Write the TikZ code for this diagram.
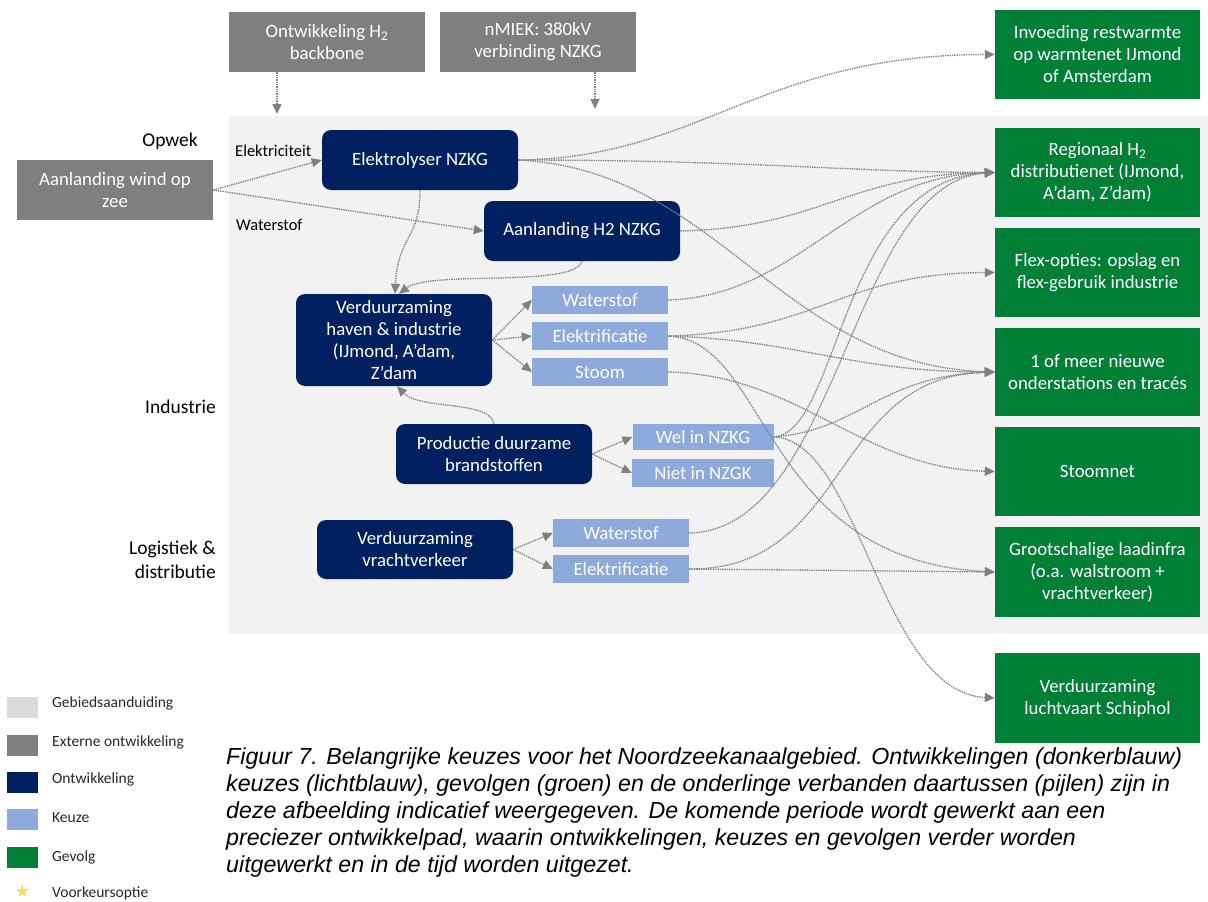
\documentclass[tikz,border=0pt]{standalone}
\usepackage{fontspec}
\setmainfont{Carlito}
\newfontfamily\capfont{Liberation Sans}
\newfontfamily\symfont{DejaVu Sans}
\usetikzlibrary{arrows.meta}
\definecolor{navy}{HTML}{002060}
\definecolor{extgray}{HTML}{7F7F7F}
\definecolor{keuze}{HTML}{8EA9DB}
\definecolor{gevolg}{HTML}{007F37}
\definecolor{areagray}{HTML}{F2F2F2}
\definecolor{leggray}{HTML}{D9D9D9}
\definecolor{conngray}{HTML}{808080}
\definecolor{staryellow}{HTML}{FFD966}
\newcommand\bxfont{\fontsize{18.8}{22}\selectfont}
\tikzset{
  ext/.style={fill=extgray, text=white, minimum width=196pt, minimum height=60pt, inner sep=0pt, align=center, font=\bxfont},
  dev/.style={fill=navy, text=white, rounded corners=9pt, minimum width=196pt, minimum height=60pt, inner sep=0pt, align=center, font=\bxfont},
  keuzebox/.style={fill=keuze, text=white, minimum width=136pt, minimum height=28pt, inner sep=0pt, align=center, font=\bxfont},
  res/.style={fill=gevolg, text=white, minimum width=205pt, minimum height=89pt, inner sep=0pt, align=center, font=\bxfont},
  conn/.style={draw=conngray, densely dotted, line width=1.35pt, -{Triangle[length=10pt,width=9pt]}},
  sidelbl/.style={inner sep=0pt, text=black},
  legsq/.style={minimum width=31pt, minimum height=21pt, inner sep=0pt},
  legtxt/.style={anchor=west, inner sep=0pt, font=\fontsize{15.5}{18}\selectfont, text=black!85}
}
\begin{document}
\begin{tikzpicture}[x=1pt, y=-1pt]
\useasboundingbox (0,0) rectangle (1208,902);
% area
\fill[areagray] (229,116) rectangle (1208,634);
% external developments
\node[ext] (hb) at (327,42) {Ontwikkeling H\textsubscript{2}\\backbone};
\node[ext] (nm) at (538,42) {nMIEK: 380kV\\verbinding NZKG};
\node[ext] (wind) at (115,190) {Aanlanding wind op\\zee};
\coordinate (hbend) at (277,114);
\coordinate (nmend) at (595,109);
% side labels
\node[sidelbl, anchor=east, font=\fontsize{19.5}{22}\selectfont] (opwek) at (198,141) {Opwek};
\node[sidelbl, anchor=west, font=\fontsize{16.5}{20}\selectfont] (elec) at (235,151) {Elektriciteit};
\node[sidelbl, anchor=west, font=\fontsize{16.5}{20}\selectfont] (wstlbl) at (236,225) {Waterstof};
\node[sidelbl, anchor=east, font=\fontsize{19.5}{22}\selectfont] (ind) at (216,407) {Industrie};
\node[sidelbl, anchor=east, align=right, font=\fontsize{19.5}{24}\selectfont] (log) at (216,560) {Logistiek \&\\distributie};
% developments
\node[dev] (ely) at (420,160) {Elektrolyser NZKG};
\node[dev] (ah2) at (582,231) {Aanlanding H2 NZKG};
\node[dev, minimum height=92pt] (hav) at (394,340) {Verduurzaming\\haven \& industrie\\(IJmond, A’dam,\\Z’dam};
\node[dev] (prod) at (494,454) {Productie duurzame\\brandstoffen};
\node[dev, minimum height=59pt] (vr) at (415,549.5) {Verduurzaming\\vrachtverkeer};
% choices
\node[keuzebox] (w1) at (600,300) {Waterstof};
\node[keuzebox] (e1) at (600,336) {Elektrificatie};
\node[keuzebox] (st) at (600,372) {Stoom};
\node[keuzebox, minimum width=141pt, minimum height=26pt] (wel) at (703,437) {Wel in NZKG};
\node[keuzebox, minimum width=142pt] (niet) at (703,473) {Niet in NZGK};
\node[keuzebox] (w2) at (621,533) {Waterstof};
\node[keuzebox] (e2) at (621,569) {Elektrificatie};
% consequences
\node[res] (inv) at (1097.5,54.5) {Invoeding restwarmte\\op warmtenet IJmond\\of Amsterdam};
\node[res] (reg) at (1097.5,172.5) {Regionaal H\textsubscript{2}\\distributienet (IJmond,\\A’dam, Z’dam)};
\node[res] (flex) at (1097.5,272.5) {Flex-opties: opslag en\\flex-gebruik industrie};
\node[res, minimum height=88pt] (ond) at (1097.5,372) {1 of meer nieuwe\\onderstations en tracés};
\node[res] (stn) at (1097.5,471.5) {Stoomnet};
\node[res, minimum height=90pt] (groot) at (1097.5,572) {Grootschalige laadinfra\\(o.a. walstroom +\\vrachtverkeer)};
\node[res, minimum height=90pt] (sch) at (1097.5,698) {Verduurzaming\\luchtvaart Schiphol};
% connectors
\draw[conn] (hbend |- hb.south) -- (hbend);
\draw[conn] (nmend |- nm.south) -- (nmend);
\draw[conn] (wind.east) -- (ely.west);
\draw[conn] (wind.east) -- (ah2.west);
\draw[conn] (ely.south) .. controls (420,240) and (398,235) .. ([xshift=1pt]hav.north);
\draw[conn] (ah2.south) .. controls (575,288) and (430,270) .. ([xshift=5pt]hav.north);
\draw[conn] (ely.east) .. controls (700,158) and (760,55) .. (inv.west);
\draw[conn] (ely.east) .. controls (750,160) and (850,172) .. (reg.west);
\draw[conn] (ely.east) .. controls (720,170) and (780,365) .. (ond.west);
\draw[conn] (ah2.east) .. controls (820,228) and (850,174) .. (reg.west);
\draw[conn] (w1.east) .. controls (800,296) and (850,176) .. (reg.west);
\draw[conn] (e1.east) .. controls (820,332) and (840,273) .. (flex.west);
\draw[conn] (e1.east) .. controls (800,340) and (850,372) .. (ond.west);
\draw[conn] (e1.east) .. controls (770,340) and (760,560) .. (groot.west);
\draw[conn] (st.east) .. controls (800,375) and (860,468) .. (stn.west);
\draw[conn] (wel.east) .. controls (840,432) and (840,180) .. (reg.west);
\draw[conn] (wel.east) .. controls (860,430) and (880,376) .. (ond.west);
\draw[conn] (wel.east) .. controls (860,440) and (880,692) .. (sch.west);
\draw[conn] (w2.east) .. controls (840,530) and (850,182) .. (reg.west);
\draw[conn] (e2.east) .. controls (850,570) and (830,376) .. (ond.west);
\draw[conn] (e2.east) -- (groot.west);
\draw[conn] (prod.north) .. controls (490,400) and (420,410) .. ([xshift=3pt]hav.south);
\draw[conn] (hav.east) -- (w1.west);
\draw[conn] (hav.east) -- (e1.west);
\draw[conn] (hav.east) -- (st.west);
\draw[conn] (prod.east) -- (wel.west);
\draw[conn] (prod.east) -- (niet.west);
\draw[conn] (vr.east) -- (w2.west);
\draw[conn] (vr.east) -- (e2.west);
% legend
\node[legsq, fill=leggray] (lg1) at (22.5,707.5) {};
\node[legsq, fill=extgray] (lg2) at (22.5,745.5) {};
\node[legsq, fill=navy] (lg3) at (22.5,782.5) {};
\node[legsq, fill=keuze] (lg4) at (22.5,819.5) {};
\node[legsq, fill=gevolg] (lg5) at (22.5,857) {};
\node[inner sep=0pt, text=staryellow, font=\symfont\fontsize{18}{18}\selectfont] (lg6) at (22.5,891) {★};
\node[legtxt] (lt1) at (52,703) {Gebiedsaanduiding};
\node[legtxt] (lt2) at (52,742) {Externe ontwikkeling};
\node[legtxt] (lt3) at (52,779) {Ontwikkeling};
\node[legtxt] (lt4) at (52,818) {Keuze};
\node[legtxt] (lt5) at (52,857) {Gevolg};
\node[legtxt] (lt6) at (52,893) {Voorkeursoptie};
% caption
\node[anchor=north west, inner sep=0pt, align=left, font=\capfont\itshape\fontsize{23.2}{27}\selectfont] (cap) at (226,747) {Figuur 7. Belangrijke keuzes voor het Noordzeekanaalgebied. Ontwikkelingen (donkerblauw)\\keuzes (lichtblauw), gevolgen (groen) en de onderlinge verbanden daartussen (pijlen) zijn in\\deze afbeelding indicatief weergegeven. De komende periode wordt gewerkt aan een\\preciezer ontwikkelpad, waarin ontwikkelingen, keuzes en gevolgen verder worden\\uitgewerkt en in de tijd worden uitgezet.};
\end{tikzpicture}
\end{document}
